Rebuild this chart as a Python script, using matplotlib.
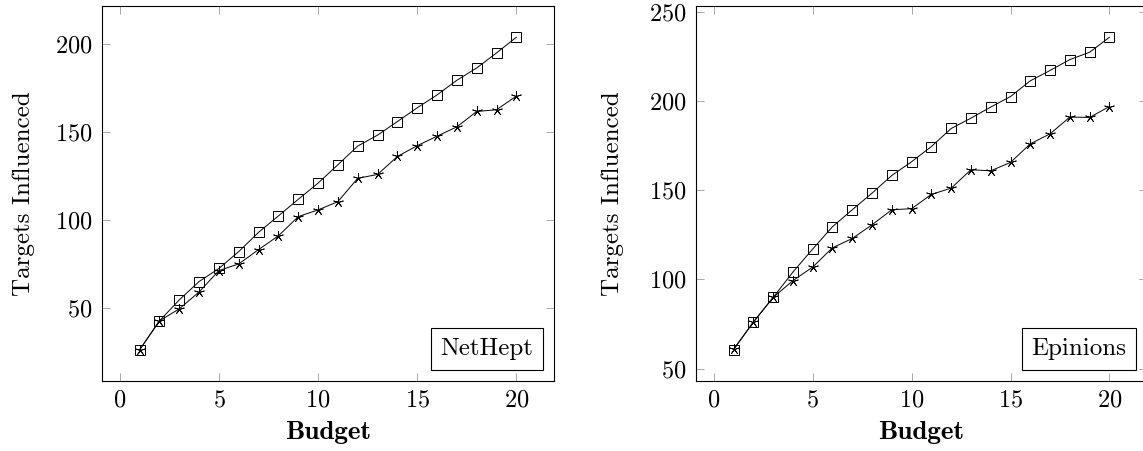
import matplotlib
matplotlib.use("Agg")
import matplotlib.pyplot as plt
from matplotlib.ticker import MultipleLocator
from matplotlib.lines import Line2D

plt.rcParams['font.family'] = ['cmr10', 'DejaVu Serif']
plt.rcParams['axes.formatter.use_mathtext'] = True
plt.rcParams['mathtext.fontset'] = 'cm'

budget = list(range(1, 21))

nethept_square = [26.4, 42.8, 54.7, 65.1, 72.5, 82.1, 93.0, 102.3, 111.7, 120.9,
                  131.3, 141.9, 148.1, 155.8, 163.6, 170.9, 179.2, 186.2, 194.7, 203.6]
nethept_star = [26.4, 42.8, 49.6, 59.2, 71.3, 75.1, 83.2, 91.0, 101.9, 105.7,
                110.4, 123.6, 125.8, 136.0, 142.1, 147.5, 152.8, 161.5, 162.5, 170.2]

epinions_square = [60.6, 76.1, 89.9, 104.1, 117.0, 129.5, 139.0, 148.3, 158.2, 165.9,
                   174.4, 184.5, 190.3, 196.5, 202.4, 211.2, 217.0, 223.1, 227.2, 235.6]
epinions_star = [60.9, 76.1, 89.9, 99.3, 106.9, 117.7, 122.9, 130.6, 139.0, 139.6,
                 147.6, 151.1, 161.4, 160.8, 165.5, 175.9, 181.5, 190.9, 190.7, 196.8]

panels = [
    ("NetHept", nethept_square, nethept_star, 50, 14),
    ("Epinions", epinions_square, epinions_star, 50, 18),
]

W, H = 1143, 451
fig = plt.figure(figsize=(W / 100, H / 100), dpi=100)
ax_boxes = [(102, 6, 554, 381), (696, 6, 1147, 381)]

FS = 17.5
star_marker = (5, 2, 0)

for (name, sq, st, ystep, lpad), (x0, y0, x1, y1) in zip(panels, ax_boxes):
    ax = fig.add_axes([x0 / W, (H - y1) / H, (x1 - x0) / W, (y1 - y0) / H])
    ax.plot(budget, sq, color='black', lw=0.7, marker='s', ms=7.2,
            mfc='none', mec='black', mew=0.7)
    ax.plot(budget, st, color='black', lw=0.7, marker=star_marker, ms=7.5,
            mec='black', mew=0.6)
    ax.margins(x=0.1, y=0.1)
    ax.xaxis.set_major_locator(MultipleLocator(5))
    ax.yaxis.set_major_locator(MultipleLocator(ystep))
    ax.tick_params(direction='in', top=True, right=True, length=5.5,
                   width=0.6, color='#999999', labelsize=FS)
    ax.tick_params(axis='x', pad=6)
    ax.tick_params(axis='y', pad=7)
    for s in ax.spines.values():
        s.set_linewidth(0.8)
    ax.set_xlabel('Budget', fontsize=19.5, family=['cmb10', 'DejaVu Serif'], labelpad=7)
    ax.set_ylabel('Targets Influenced', fontsize=18, labelpad=lpad)
    leg = ax.legend([Line2D([], [], linestyle='none')], [name], loc='lower right',
                    handlelength=0, handletextpad=0, fancybox=False,
                    edgecolor='black', framealpha=1, fontsize=18,
                    borderaxespad=0.45, borderpad=0.38)
    leg.get_frame().set_linewidth(0.8)

fig.savefig('out.png', dpi=100)
